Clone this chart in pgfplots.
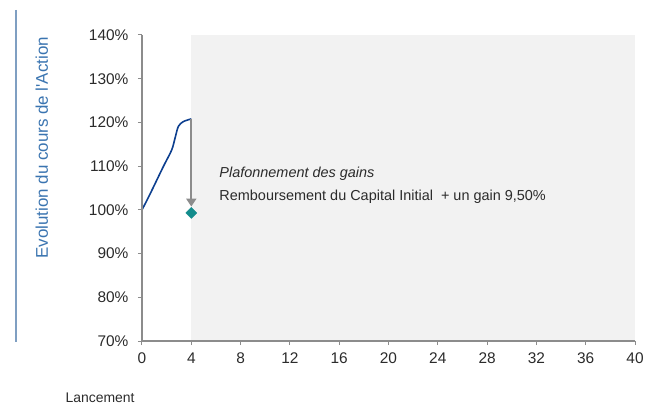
\documentclass[border=0pt]{standalone}
\usepackage{fontspec}
\setmainfont{Liberation Sans}
\usepackage{pgfplots}
\pgfplotsset{compat=1.18}
\usetikzlibrary{arrows.meta}
\definecolor{bggray}{HTML}{F2F2F2}
\definecolor{axgray}{HTML}{8C8C8C}
\definecolor{txt}{HTML}{2B2B2B}
\definecolor{curve}{HTML}{0D3F8F}
\definecolor{tealmk}{HTML}{138C8C}
\definecolor{lblue}{HTML}{3A74B0}
\definecolor{lineblue}{HTML}{7F9FC2}
\begin{document}
\begin{tikzpicture}
\path[use as bounding box] (-142bp,-67bp) rectangle (504bp,341bp);
\draw[lineblue, line width=1.5bp] (-126bp,331bp) -- (-126bp,-1bp);
\begin{axis}[
  at={(0,0)}, anchor=south west,
  scale only axis, width=493bp, height=306bp,
  xmin=0, xmax=40, ymin=70, ymax=140,
  axis lines*=left, axis on top,
  axis line style={axgray, line width=1.5bp},
  xtick={0,4,...,40}, ytick={70,80,...,140},
  tick style={axgray, line width=1bp}, tick align=outside, major tick length=4bp,
  ticklabel style={font=\fontsize{15.5}{18}\selectfont, text=txt},
  xticklabel style={yshift=-4bp},
  yticklabel style={xshift=-6bp},
  yticklabel={\pgfmathprintnumber{\tick}\%},
  /pgf/number format/assume math mode=true,
  ylabel={Evolution du cours de l\textquotesingle Action},
  ylabel style={at={(axis description cs:-0.203,0.631)}, anchor=center, font=\fontsize{17}{20}\selectfont, text=lblue},
  clip=false,
]
\addplot[fill=bggray, draw=none] coordinates {(4,70) (40,70) (40,140) (4,140)} -- cycle;
\addplot[curve, line width=1.6bp, smooth, tension=0.5] coordinates {
(0,100) (0.65,103.6) (1.73,109.9) (2.41,113.7) (2.68,116.4) (2.95,119.1) (3.36,120.2) (4,120.8)};
\addplot[axgray, line width=2bp, -{Triangle[width=10bp,length=8bp]}] coordinates {(4,120.8) (4,100.75)};
\addplot[only marks, mark=square*, mark size=3.9bp, mark options={rotate=45}, color=tealmk] coordinates {(4,99.3)};
\node[anchor=west, font=\fontsize{14.5}{17}\selectfont\itshape, text=txt] at (axis cs:6.0,108.3) {Plafonnement des gains};
\node[anchor=west, font=\fontsize{14.5}{17}\selectfont, text=txt] at (axis cs:6.0,103.1) {Remboursement du Capital Initial\ \ + un gain 9,50\%};
\node[font=\fontsize{14}{17}\selectfont, text=txt] at (axis description cs:-0.085,-0.186) {Lancement};
\end{axis}
\end{tikzpicture}
\end{document}
